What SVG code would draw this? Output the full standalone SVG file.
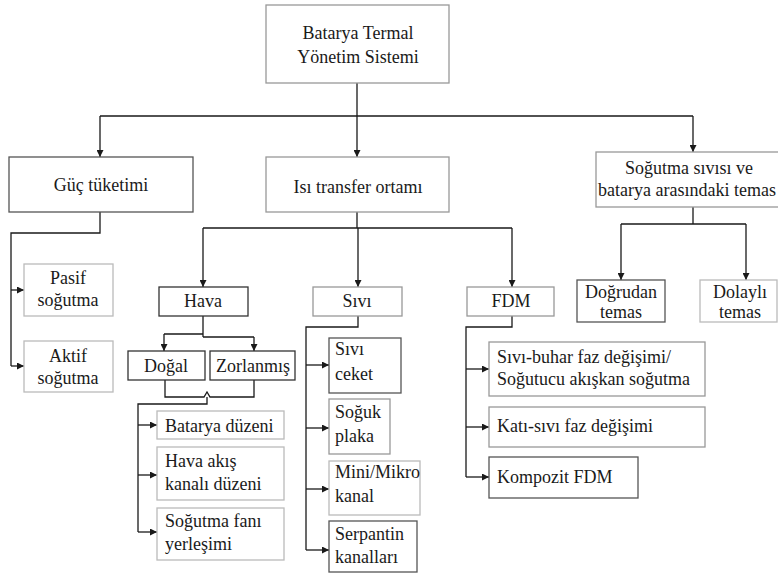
<svg xmlns="http://www.w3.org/2000/svg" width="778" height="578" viewBox="0 0 778 578">
<defs>
<marker id="ah" viewBox="0 0 10 10" refX="10" refY="5" markerWidth="7" markerHeight="7" markerUnits="userSpaceOnUse" orient="auto">
<path d="M0,0 L10,5 L0,10 z" fill="#1a1a1a"/>
</marker>
<style>
.b{fill:#fff;stroke:#999;stroke-width:1.3}
.l{stroke:#bbb}
.d{stroke:#555}
.k{stroke:#333}
.t text{font-size:18px;fill:#1a1a1a}
.c{text-anchor:middle}
.w{fill:none;stroke:#1a1a1a;stroke-width:1.3}
.a{fill:none;stroke:#1a1a1a;stroke-width:1.3;marker-end:url(#ah)}
</style>
</defs>
<rect width="778" height="578" fill="#fff"/>
<g id="connectors">
<path class="w" d="M357,83 V116 M100,116 H693"/>
<path class="a" d="M100,116 V157"/>
<path class="a" d="M357,116 V157"/>
<path class="a" d="M693,116 V152"/>
<path class="w" d="M100,212 V233 H11 V366"/>
<path class="a" d="M11,290 H24"/>
<path class="a" d="M11,366 H24"/>
<path class="w" d="M357,212 V228 M203,228 H512"/>
<path class="a" d="M203,228 V287"/>
<path class="a" d="M358,228 V287"/>
<path class="a" d="M512,228 V287"/>
<path class="w" d="M693,207 V224 M621,224 H746"/>
<path class="a" d="M621,224 V280"/>
<path class="a" d="M746,224 V280"/>
<path class="w" d="M203,316 V337 M164,334 H203 M203,337 H254"/>
<path class="a" d="M164,334 V351"/>
<path class="a" d="M254,337 V351"/>
<path class="w" d="M165,380 V397 H204 L207,392 L210,397 H254 V380 M207,397 V404 H138 V532"/>
<path class="a" d="M138,425 H157"/>
<path class="a" d="M138,475 H157"/>
<path class="a" d="M138,532 H157"/>
<path class="w" d="M358,316 V327 H306 V550"/>
<path class="a" d="M306,365 H329"/>
<path class="a" d="M306,428 H329"/>
<path class="a" d="M306,489 H329"/>
<path class="a" d="M306,550 H329"/>
<path class="w" d="M512,316 V327 H466 V477"/>
<path class="a" d="M466,369 H489"/>
<path class="a" d="M466,427 H489"/>
<path class="a" d="M466,477 H489"/>
</g>
<g class="t" font-family="Liberation Serif, Times New Roman, serif">
<g id="n-root"><rect class="b" x="266" y="5" width="183" height="78"/><text class="c" x="358" y="39">Batarya Termal</text><text class="c" x="358" y="63">Yönetim Sistemi</text></g>
<g id="n-guc"><rect class="b d" x="9" y="157" width="184" height="55"/><text class="c" x="101" y="191">Güç tüketimi</text></g>
<g id="n-isi"><rect class="b" x="266" y="157" width="183" height="55"/><text class="c" x="358" y="193">Isı transfer ortamı</text></g>
<g id="n-temas"><rect class="b" x="596" y="152" width="200" height="55"/><text class="c" x="689" y="174">Soğutma sıvısı ve</text><text x="776" y="196" text-anchor="end">batarya arasındaki temas</text></g>
<g id="n-pasif"><rect class="b l" x="24" y="264" width="89" height="52"/><text class="c" x="68" y="284">Pasif</text><text class="c" x="68" y="306">soğutma</text></g>
<g id="n-aktif"><rect class="b l" x="24" y="341" width="89" height="51"/><text class="c" x="68" y="362">Aktif</text><text class="c" x="68" y="384">soğutma</text></g>
<g id="n-hava"><rect class="b k" x="159" y="287" width="89" height="29"/><text class="c" x="203" y="307">Hava</text></g>
<g id="n-sivi"><rect class="b" x="313" y="287" width="89" height="29"/><text class="c" x="357" y="307">Sıvı</text></g>
<g id="n-fdm"><rect class="b" x="467" y="287" width="87" height="29"/><text class="c" x="511" y="307">FDM</text></g>
<g id="n-dogrudan"><rect class="b d" x="577" y="280" width="88" height="42"/><text class="c" x="621" y="298">Doğrudan</text><text class="c" x="621" y="318">temas</text></g>
<g id="n-dolayli"><rect class="b l" x="700" y="280" width="77" height="42"/><text class="c" x="740" y="298">Dolaylı</text><text class="c" x="740" y="318">temas</text></g>
<g id="n-dogal"><rect class="b k" x="128" y="351" width="77" height="29"/><text class="c" x="166" y="372">Doğal</text></g>
<g id="n-zorlanmis"><rect class="b k" x="210" y="351" width="85" height="29"/><text class="c" x="253" y="372">Zorlanmış</text></g>
<g id="n-batarya"><rect class="b l" x="157" y="411" width="127" height="28"/><text x="165" y="432">Batarya düzeni</text></g>
<g id="n-havaakis"><rect class="b l" x="157" y="447" width="127" height="53"/><text x="165" y="467">Hava akış</text><text x="165" y="490">kanalı düzeni</text></g>
<g id="n-fan"><rect class="b l" x="157" y="508" width="127" height="52"/><text x="165" y="527">Soğutma fanı</text><text x="165" y="550">yerleşimi</text></g>
<g id="n-ceket"><rect class="b d" x="329" y="338" width="72" height="55"/><text x="335" y="355">Sıvı</text><text x="335" y="380">ceket</text></g>
<g id="n-soguk"><rect class="b" x="329" y="399" width="61" height="55"/><text x="335" y="418">Soğuk</text><text x="335" y="442">plaka</text></g>
<g id="n-mini"><rect class="b l" x="329" y="461" width="91" height="54"/><text x="335" y="478">Mini/Mikro</text><text x="335" y="502">kanal</text></g>
<g id="n-serpantin"><rect class="b d" x="329" y="521" width="88" height="51"/><text x="335" y="540">Serpantin</text><text x="335" y="563">kanalları</text></g>
<g id="n-buhar"><rect class="b" x="489" y="342" width="216" height="54"/><text x="497" y="363">Sıvı-buhar faz değişimi/</text><text x="497" y="385">Soğutucu akışkan soğutma</text></g>
<g id="n-kati"><rect class="b" x="489" y="407" width="216" height="40"/><text x="497" y="432">Katı-sıvı faz değişimi</text></g>
<g id="n-kompozit"><rect class="b d" x="489" y="457" width="149" height="41"/><text x="497" y="483">Kompozit FDM</text></g>
</g>
</svg>
